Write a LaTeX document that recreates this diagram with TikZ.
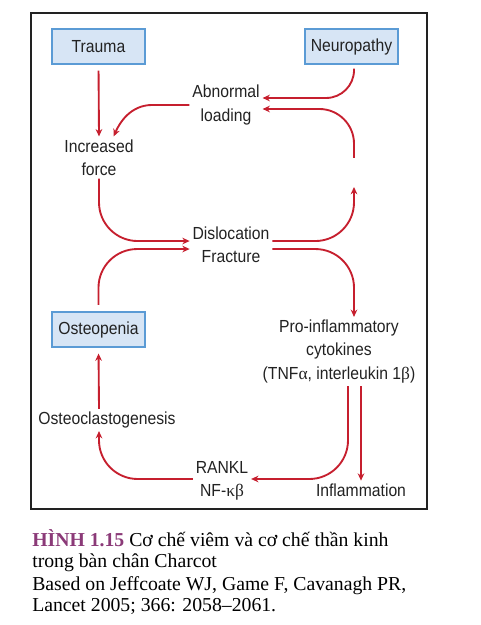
\documentclass[tikz,border=0pt]{standalone}
\usepackage{fontspec}
\usetikzlibrary{arrows.meta,calc,shadows}
\newfontfamily\labfont[FakeStretch=0.9]{Liberation Sans}
\newfontfamily\greekfont{Liberation Serif}
\newfontfamily\capfont{Liberation Serif}
\definecolor{arrred}{HTML}{C61F2E}
\definecolor{boxfill}{HTML}{D7E5F5}
\definecolor{boxline}{HTML}{5B9BD5}
\definecolor{boxshadow}{HTML}{6F93BD}
\definecolor{txt}{HTML}{222222}
\definecolor{capcol}{HTML}{8B3A78}
\tikzset{
  lab/.style={font=\labfont\fontsize{13.1}{17.6}\selectfont, text=txt, align=center, inner sep=2pt},
  bluebox/.style={lab, draw=boxline, fill=boxfill, line width=0.8pt, minimum width=69.75pt, minimum height=26.25pt,
     drop shadow={shadow xshift=0.9pt, shadow yshift=-0.9pt, fill=boxshadow, opacity=1}},
  arr/.style={draw=arrred, line width=1.4pt, -{Stealth[length=5.5pt,width=5pt]}},
  capline/.style={font=\capfont\fontsize{14.8}{16.3}\selectfont, text=black, anchor=base west, inner sep=0pt},
}
\begin{document}
\begin{tikzpicture}[x=0.75pt,y=0.75pt]
\useasboundingbox (0,0) rectangle (481,625);
% frame
\draw[line width=0.9pt, draw=txt] (31,116) rectangle (427,612);
% boxes
\node[bluebox] (trauma) at (98.5,578.5) {Trauma};
\node[bluebox] (neuro) at (351.5,578.5) {Neuropathy};
\node[bluebox] (osteo) at (98.5,295.5) {Osteopenia};
% labels
\node[lab] (abn) at (226,520) {Abnormal\\loading};
\node[lab] (inc) at (99,467.5) {Increased\\force};
\node[lab] (disl) at (231,380.5) {Dislocation\\Fracture};
\node[lab] (proinf) at (339,273.5) {Pro-inflammatory\\cytokines\\(TNF{\greekfont α}, interleukin 1{\greekfont β})};
\node[lab] (oc) at (107,205) {Osteoclastogenesis};
\node[lab] (rankl) at (222,144) {RANKL\\NF-{\greekfont κβ}};
\node[lab] (infl) at (361,135) {Inflammation};
\coordinate (rtop) at (354,467);
\coordinate (rbot) at (354,438);
% connectors
\draw[arr, shorten <=4.5pt] (trauma.south) -- (inc.north);
\draw[arr, rounded corners=21pt, shorten <=3pt] ([xshift=1.9pt]neuro.south) |- ([yshift=5.25pt]abn.east);
\draw[arr, rounded corners=26pt] (rtop) |- ([yshift=-3pt]abn.east);
\draw[arr] (abn.west) -- ++(-28pt,0) .. controls +(-16pt,0) and +(4.5pt,10.5pt) .. ([xshift=11pt]inc.north);
\draw[arr, rounded corners=29pt] (inc.south) |- ([yshift=2.6pt]disl.west);
\draw[arr, rounded corners=29pt] ([yshift=2.6pt]disl.east) -| (rbot);
\draw[arr, rounded corners=29pt, shorten <=5pt] (osteo.north) |- ([yshift=-3.4pt]disl.west);
\draw[arr, rounded corners=29pt] ([yshift=-3.4pt]disl.east) -| ([xshift=11.25pt]proinf.north);
\draw[arr, shorten >=4.5pt] ([xshift=-6pt]oc.north) -- ([yshift=0pt]osteo.south);
\draw[arr, rounded corners=29pt] ([xshift=6.75pt]proinf.south) |- ([yshift=1.5pt]rankl.east);
\draw[arr] ([xshift=16.5pt]proinf.south) -- (infl.north);
\draw[arr, rounded corners=29pt] ([yshift=1.5pt]rankl.west) -| ([xshift=-6pt]oc.south);
% caption
\node[capline] (c1) at (32,78) {\textbf{\textcolor{capcol}{HÌNH 1.15}} Cơ chế viêm và cơ chế thần kinh};
\node[capline] (c2) at (32,57) {trong bàn chân Charcot};
\node[capline] (c3) at (32,35) {Based on Jeffcoate WJ, Game F, Cavanagh PR,};
\node[capline] (c4) at (32,13.5) {Lancet 2005; 366: 2058–2061.};
\end{tikzpicture}
\end{document}
